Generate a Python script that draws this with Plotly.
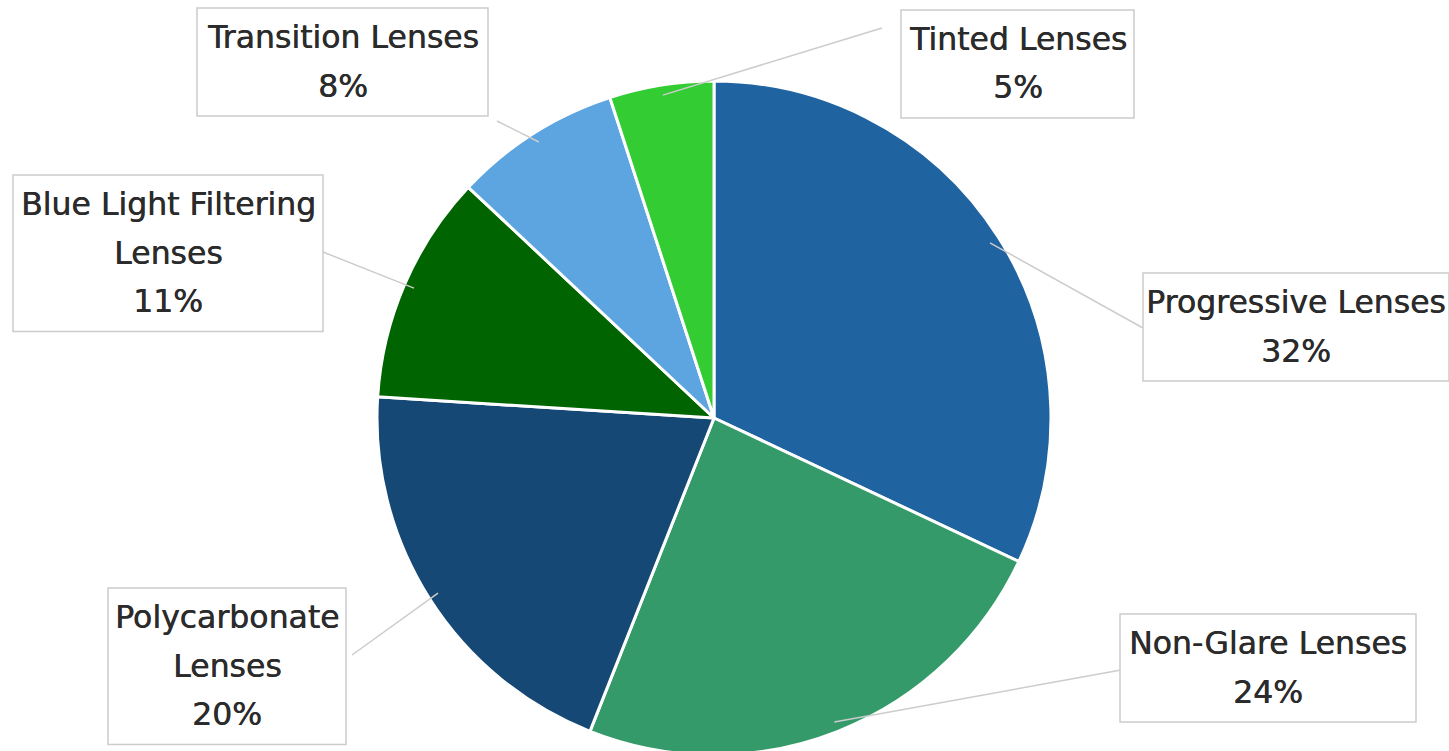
import math
import plotly.graph_objects as go

# ---------------- data ----------------
categories = ["Progressive Lenses", "Non-Glare Lenses", "Polycarbonate Lenses",
              "Blue Light Filtering Lenses", "Transition Lenses", "Tinted Lenses"]
shares = [32, 24, 20, 11, 8, 5]
slice_colors = ["#1F63A0", "#349A69", "#164875", "#006400", "#5CA5E1", "#33CC33"]

# ---------------- layout config (pixels, measured from top-left) ----------------
W, H = 1449, 760                   # slightly taller than the window: the pie bottom is cut off
CX, CY, R = 714, 418, 337          # pie centre / radius
FONT = "DejaVu Sans"
FONT_SIZE = 31.5
TEXT_COLOR = "#2B2B2B"
LINE_PITCH = 48.5
FIRST_LINE = 29
BOX_PAD = 9

# label box placement: left, top, right
label_boxes = {
    "Progressive Lenses": (1143, 273, 1449),
    "Non-Glare Lenses": (1120, 614, 1416),
    "Polycarbonate Lenses": (108, 588, 346),
    "Blue Light Filtering Lenses": (13, 175, 323),
    "Transition Lenses": (197, 8, 488),
    "Tinted Lenses": (901, 10, 1134),
}
# where each leader line meets its label
leader_ends = {
    "Progressive Lenses": (1143, 328),
    "Non-Glare Lenses": (1121, 670),
    "Polycarbonate Lenses": (352, 655),
    "Blue Light Filtering Lenses": (323, 252),
    "Transition Lenses": (497, 121),
    "Tinted Lenses": (882, 28),
}


def px(x):
    return x / W


def py(y):
    return 1 - y / H


def wrap(label, limit=18):
    if len(label) <= limit:
        return [label]
    head, tail = label.rsplit(" ", 1)
    return [head, tail]


fig = go.Figure(go.Pie(
    labels=categories,
    values=shares,
    sort=False,
    direction="clockwise",
    rotation=0,
    marker=dict(colors=slice_colors, line=dict(color="white", width=3)),
    textinfo="none",
    hovertemplate="%{label}: %{percent}<extra></extra>",
    domain=dict(x=[px(CX - R), px(CX + R)], y=[py(CY + R), py(CY - R)]),
))

total = sum(shares)
shapes = []
annotations = []
cum = 0
for cat, val in zip(categories, shares):
    mid = 2 * math.pi * (cum + val / 2) / total
    cum += val
    sx = CX + 0.97 * R * math.sin(mid)
    sy = CY - 0.97 * R * math.cos(mid)
    ex, ey = leader_ends[cat]
    shapes.append(dict(type="line", xref="paper", yref="paper",
                       x0=px(sx), y0=py(sy), x1=px(ex), y1=py(ey),
                       line=dict(color="#CCCCCC", width=1.5), layer="above"))

    lines = wrap(cat) + [f"{round(val / total * 100)}%"]
    left, top, right = label_boxes[cat]
    bottom = top + BOX_PAD + LINE_PITCH * len(lines) + 2
    shapes.append(dict(type="rect", xref="paper", yref="paper",
                       x0=px(left), y0=py(bottom), x1=px(right), y1=py(top),
                       line=dict(color="#CCCCCC", width=1.5),
                       fillcolor="white", layer="above"))
    cx_box = (left + right) / 2
    for i, t in enumerate(lines):
        annotations.append(dict(
            x=px(cx_box), y=py(top + FIRST_LINE + LINE_PITCH * i),
            xref="paper", yref="paper", text=t, showarrow=False,
            xanchor="center", yanchor="middle",
            font=dict(family=FONT, size=FONT_SIZE, color=TEXT_COLOR,
                      shadow="0.5px 0px 0px #2B2B2B")))

fig.update_layout(
    width=W, height=H,
    margin=dict(l=0, r=0, t=0, b=0),
    paper_bgcolor="white", plot_bgcolor="white",
    showlegend=False,
    shapes=shapes, annotations=annotations,
)

fig.write_html("out.html", config={"displayModeBar": False},
               post_script="document.body.style.margin='0';document.body.style.overflow='hidden';")
